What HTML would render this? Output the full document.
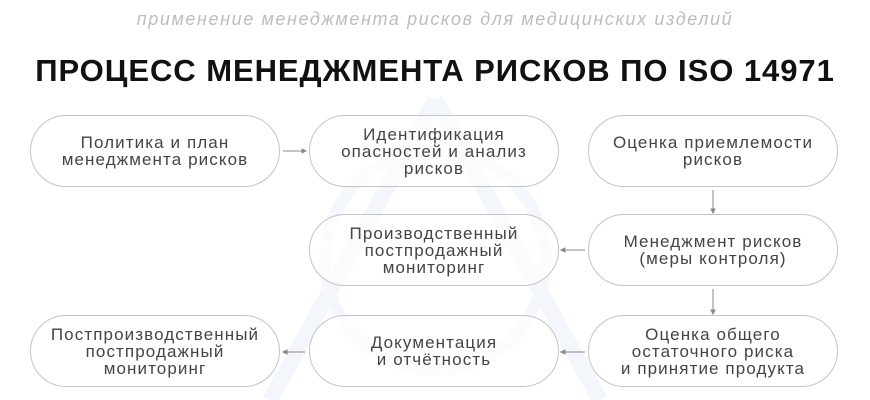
<!DOCTYPE html>
<html><head><meta charset="utf-8"><style>
body{margin:0;width:870px;height:400px;background:#fff;position:relative;overflow:hidden;font-family:"Liberation Sans",sans-serif}
.sub{position:absolute;top:9px;left:0;width:870px;text-align:center;font-style:italic;color:#bdbdbd;font-size:18px;letter-spacing:1.6px}
.t{position:absolute;top:53px;left:0;width:870px;text-align:center;font-weight:bold;font-size:31px;color:#111;letter-spacing:0.95px}
.b{position:absolute;width:250px;height:72px;border:1px solid #c4c4c4;border-radius:36px;box-sizing:border-box;display:flex;align-items:center;justify-content:center;text-align:center;font-size:17px;line-height:17px;color:#444;letter-spacing:1.1px;background:rgba(255,255,255,0.6)}
svg{position:absolute;left:0;top:0}
</style></head><body>
<svg width="870" height="400">
<path d="M435 100 L270 400 M435 100 L600 400" stroke="#f3f6fb" stroke-width="16" fill="none"/>
<circle cx="435" cy="260" r="110" stroke="#f4f7fc" stroke-width="12" fill="none"/>
<g stroke="#888" stroke-width="1" fill="#888">
<line x1="283" y1="151" x2="304" y2="151"/><path d="M306 151 l-4 -2 v4z"/>
<line x1="713" y1="190" x2="713" y2="211"/><path d="M713 213 l-2 -4 h4z"/>
<line x1="713" y1="289" x2="713" y2="312"/><path d="M713 314 l-2 -4 h4z"/>
<line x1="585" y1="250" x2="563" y2="250"/><path d="M561 250 l4 -2 v4z"/>
<line x1="585" y1="352" x2="563" y2="352"/><path d="M561 352 l4 -2 v4z"/>
<line x1="305" y1="352" x2="285" y2="352"/><path d="M283 352 l4 -2 v4z"/>
</g></svg>
<div class="sub">применение менеджмента рисков для медицинских изделий</div>
<div class="t">ПРОЦЕСС МЕНЕДЖМЕНТА РИСКОВ ПО ISO 14971</div>
<div class="b" style="left:30px;top:115px">Политика и план<br>менеджмента рисков</div>
<div class="b" style="left:309px;top:115px">Идентификация<br>опасностей и анализ<br>рисков</div>
<div class="b" style="left:588px;top:115px">Оценка приемлемости<br>рисков</div>
<div class="b" style="left:309px;top:214px">Производственный<br>постпродажный<br>мониторинг</div>
<div class="b" style="left:588px;top:214px">Менеджмент рисков<br>(меры контроля)</div>
<div class="b" style="left:30px;top:315px">Постпроизводственный<br>постпродажный<br>мониторинг</div>
<div class="b" style="left:309px;top:315px">Документация<br>и отчётность</div>
<div class="b" style="left:588px;top:315px">Оценка общего<br>остаточного риска<br>и принятие продукта</div>
</body></html>
